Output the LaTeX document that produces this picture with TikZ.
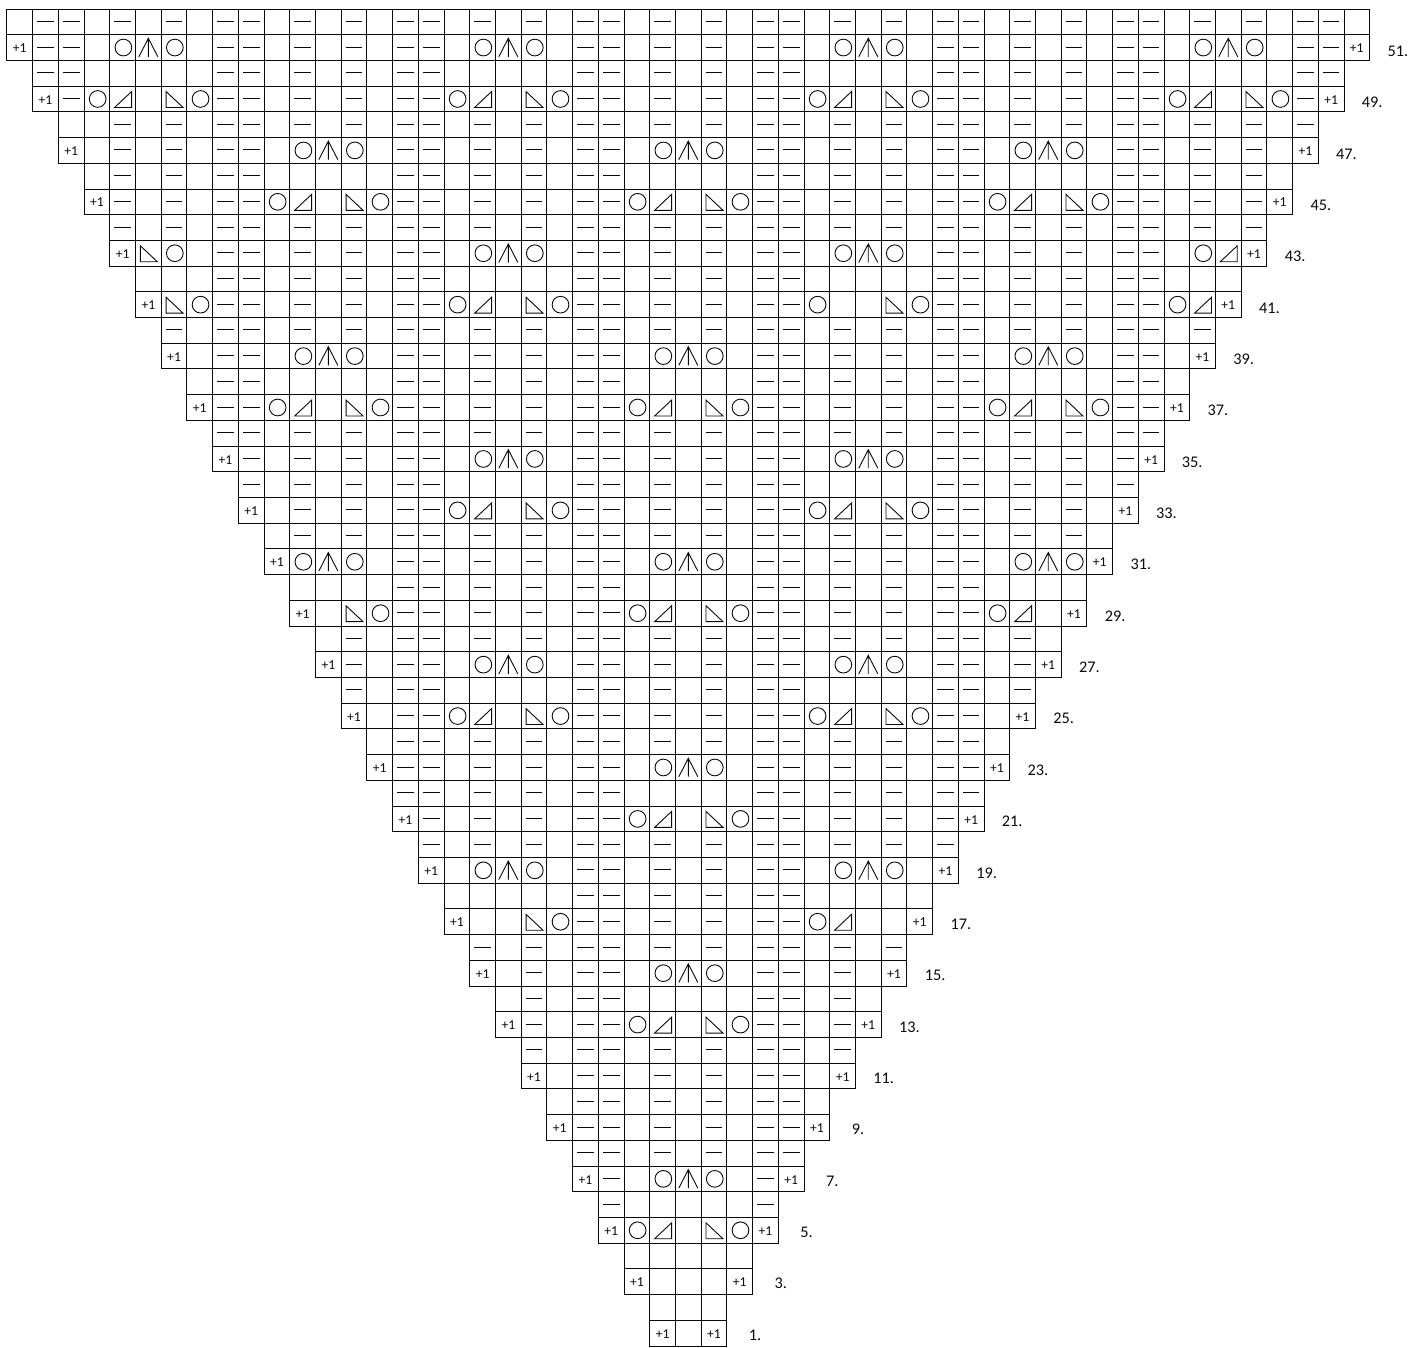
\documentclass[tikz,border=0pt]{standalone}
\usepackage{fontspec}
\setmainfont{Carlito}
\definecolor{LaceInk}{RGB}{10,10,10}
\tikzset{
  lace/cell/.style={draw=LaceInk, line width=1pt},
  lace/sign/.style={draw=LaceInk, line width=1pt},
  lace/inc/.style={anchor=base, inner sep=0pt, text=LaceInk, font=\fontsize{15}{17}\selectfont},
  lace/rowlabel/.style={anchor=base, inner sep=0pt, text=LaceInk, font=\fontsize{18}{20}\selectfont},
  purl/.pic={\draw[lace/sign, line width=0.95pt] (-0.325,0.02) -- (0.325,0.02);},
  yarnover/.pic={\draw[lace/sign] (0.03,0) circle (0.325);},
  cdd/.pic={\draw[lace/sign] (-0.37,-0.36) -- (0,0.36) -- (0.37,-0.36) (0,0.36) -- (0,-0.36);},
  ktog/.pic={\draw[lace/sign] (-0.31,-0.33) -- (0.35,-0.33) -- (0.35,0.29) -- cycle;},
  ssk/.pic={\draw[lace/sign] (-0.31,0.29) -- (-0.31,-0.33) -- (0.35,-0.33) -- cycle;}
}
\newcount\colcount
\def\readcell#1{%
  \ifx#1\relax\else
    \drawcell{#1}%
    \advance\colcount by 1
    \expandafter\readcell
  \fi}
\newcommand{\drawcell}[1]{%
  \coordinate (here) at (\the\colcount,\rownum-0.5);
  \draw[lace/cell] (\the\colcount-0.5,\rownum-1) rectangle (\the\colcount+0.5,\rownum);
  \if#1-\pic at (here) {purl};\fi
  \if#1o\pic at (here) {yarnover};\fi
  \if#1a\pic at (here) {cdd};\fi
  \if#1r\pic at (here) {ktog};\fi
  \if#1l\pic at (here) {ssk};\fi
  \if#1+\node[lace/inc] (inc\rownum/\the\colcount) at ([yshift=-0.2cm]here) {+1};\fi
}
\newcommand{\knitrow}[2]{%
  \def\rownum{#1}%
  \pgfmathtruncatemacro{\halfwidth}{(#1+1)/2}%
  \colcount=-\halfwidth
  \readcell#2\relax
}

\begin{document}
\begin{tikzpicture}[x=1cm,y=1cm]
  \useasboundingbox (-26.77,-0.04) rectangle (28.03,52.35);
  \knitrow{52}{.--.- .-.--.- .-.--.- .-.--.- .-.--.- .-.--.- .-.--.- .-.--.}
  \knitrow{51}{+--.o ao.--.- .-.--.o ao.--.- .-.--.o ao.--.- .-.--.o ao.--+}
  \knitrow{50}{--.. ...--.- .-.--.. ...--.- .-.--.. ...--.- .-.--.. ...--}
  \knitrow{49}{+-or .lo--.- .-.--or .lo--.- .-.--or .lo--.- .-.--or .lo-+}
  \knitrow{48}{..- .-.--.- .-.--.- .-.--.- .-.--.- .-.--.- .-.--.- .-.-}
  \knitrow{47}{+.- .-.--.o ao.--.- .-.--.o ao.--.- .-.--.o ao.--.- .-.+}
  \knitrow{46}{.- .-.--.. ...--.- .-.--.. ...--.- .-.--.. ...--.- .-.}
  \knitrow{45}{+- .-.--or .lo--.- .-.--or .lo--.- .-.--or .lo--.- .-+}
  \knitrow{44}{- .-.--.- .-.--.- .-.--.- .-.--.- .-.--.- .-.--.- .-}
  \knitrow{43}{+ lo.--.- .-.--.o ao.--.- .-.--.o ao.--.- .-.--.o r+}
  \knitrow{42}{...--.- .-.--.. ...--.- .-.--.. ...--.- .-.--.. .}
  \knitrow{41}{+lo--.- .-.--or .lo--.- .-.--o. .lo--.- .-.--or +}
  \knitrow{40}{-.--.- .-.--.- .-.--.- .-.--.- .-.--.- .-.--.-}
  \knitrow{39}{+.--.o ao.--.- .-.--.o ao.--.- .-.--.o ao.--.+}
  \knitrow{38}{.--.. ...--.- .-.--.. ...--.- .-.--.. ...--.}
  \knitrow{37}{+--or .lo--.- .-.--or .lo--.- .-.--or .lo--+}
  \knitrow{36}{--.- .-.--.- .-.--.- .-.--.- .-.--.- .-.--}
  \knitrow{35}{+-.- .-.--.o ao.--.- .-.--.o ao.--.- .-.-+}
  \knitrow{34}{-.- .-.--.. ...--.- .-.--.. ...--.- .-.-}
  \knitrow{33}{+.- .-.--or .lo--.- .-.--or .lo--.- .-.+}
  \knitrow{32}{.- .-.--.- .-.--.- .-.--.- .-.--.- .-.}
  \knitrow{31}{+o ao.--.- .-.--.o ao.--.- .-.--.o ao+}
  \knitrow{30}{. ...--.- .-.--.. ...--.- .-.--.. ..}
  \knitrow{29}{+ .lo--.- .-.--or .lo--.- .-.--or .+}
  \knitrow{28}{.-.--.- .-.--.- .-.--.- .-.--.- .}
  \knitrow{27}{+-.--.o ao.--.- .-.--.o ao.--.- +}
  \knitrow{26}{-.--.. ...--.- .-.--.. ...--.-}
  \knitrow{25}{+.--or .lo--.- .-.--or .lo--.+}
  \knitrow{24}{.--.- .-.--.- .-.--.- .-.--.}
  \knitrow{23}{+--.- .-.--.o ao.--.- .-.--+}
  \knitrow{22}{--.- .-.--.. ...--.- .-.--}
  \knitrow{21}{+-.- .-.--or .lo--.- .-.-+}
  \knitrow{20}{-.- .-.--.- .-.--.- .-.-}
  \knitrow{19}{+.o ao.--.- .-.--.o ao.+}
  \knitrow{18}{.. ...--.- .-.--.. ...}
  \knitrow{17}{+. .lo--.- .-.--or ..+}
  \knitrow{16}{- .-.--.- .-.--.- .-}
  \knitrow{15}{+ .-.--.o ao.--.- .+}
  \knitrow{14}{.-.--.. ...--.- .}
  \knitrow{13}{+-.--or .lo--.- +}
  \knitrow{12}{-.--.- .-.--.-}
  \knitrow{11}{+.--.- .-.--.+}
  \knitrow{10}{.--.- .-.--.}
  \knitrow{9}{+--.- .-.--+}
  \knitrow{8}{--.- .-.--}
  \knitrow{7}{+-.o ao.-+}
  \knitrow{6}{-.. ...-}
  \knitrow{5}{+or .lo+}
  \knitrow{4}{.. ...}
  \knitrow{3}{+. ..+}
  \knitrow{2}{. ..}
  \knitrow{1}{+ .+}
  \foreach \rowlabel in {1,3,...,51} {
    \pgfmathsetmacro{\labelx}{(\rowlabel+1)/2+1.60}
    \pgfmathsetmacro{\labely}{\rowlabel-0.5-0.27-0.0015*\rowlabel}
    \node[lace/rowlabel] (row\rowlabel) at (\labelx,\labely) {\rowlabel.};
  }
\end{tikzpicture}
\end{document}
